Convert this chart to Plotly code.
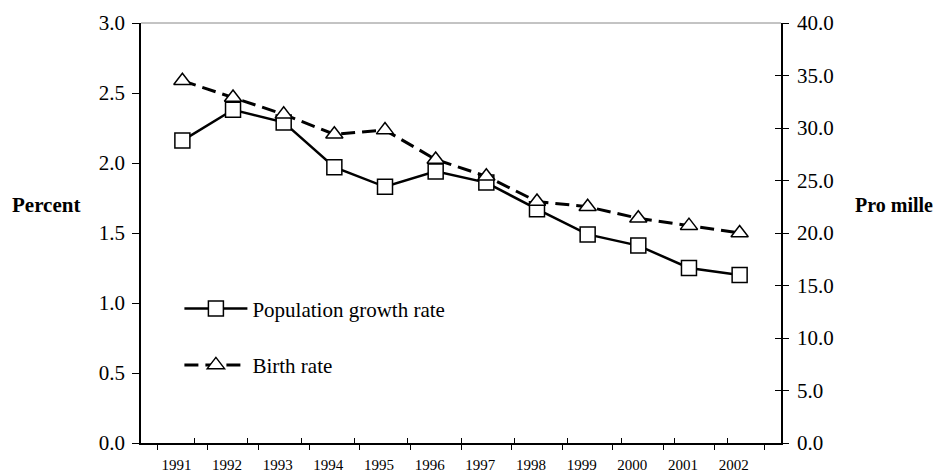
import plotly.graph_objects as go

years = ["1991", "1992", "1993", "1994", "1995", "1996", "1997", "1998", "1999", "2000", "2001", "2002"]
population_growth = [2.16, 2.38, 2.29, 1.97, 1.83, 1.94, 1.86, 1.67, 1.49, 1.41, 1.25, 1.20]
birth_rate = [34.5, 32.9, 31.3, 29.4, 29.8, 27.0, 25.4, 23.0, 22.5, 21.4, 20.7, 20.0]

FONT = "Times New Roman"

fig = go.Figure()
fig.add_trace(go.Scatter(
    x=years, y=population_growth, name="Population growth rate",
    mode="lines+markers", legendgroup="a",
    line=dict(color="black", width=2.5),
    marker=dict(symbol="square", size=15, color="white", line=dict(color="black", width=1.5)),
))
fig.add_trace(go.Scatter(
    x=years, y=birth_rate, name="Birth rate", yaxis="y2",
    mode="lines+markers", legendgroup="b",
    line=dict(color="black", width=3, dash="14px,7px"),
    marker=dict(symbol="triangle-up", size=15, color="white", line=dict(color="black", width=1.5)),
))

common = dict(showgrid=False, zeroline=False, automargin=False)

fig.update_layout(
    width=933, height=465,
    margin=dict(l=133, r=160, t=15, b=30),
    paper_bgcolor="white", plot_bgcolor="white",
    font=dict(family=FONT, color="black", size=16),
    showlegend=True,
    legend=dict(x=0.06, y=0.368, xanchor="left", yanchor="top", itemwidth=63,
                bgcolor="rgba(0,0,0,0)", font=dict(size=21, family=FONT),
                traceorder="grouped", tracegroupgap=26),
    xaxis=dict(type="category", categoryarray=years, showline=True, linecolor="black", linewidth=1.5,
               ticks="outside", ticklen=5, tickcolor="black", tickson="boundaries",
               ticklabelstandoff=7, ticklabelshift=-6, tickfont=dict(size=15, family=FONT), **common),
    xaxis2=dict(type="category", categoryarray=years, range=[-0.5, len(years) - 0.5],
                overlaying="x", side="bottom", showline=False, ticks="inside", ticklen=5,
                tickcolor="black", tickson="boundaries", showticklabels=False, **common),
    yaxis=dict(range=[0, 3], dtick=0.5, tickformat=".1f", showline=True,
               linecolor="black", linewidth=1.5, ticks="outside", ticklen=7, tickcolor="black",
               ticklabelstandoff=3, tickfont=dict(size=21, family=FONT), **common),
    yaxis2=dict(range=[0, 40], dtick=5, tickformat=".1f", overlaying="y", side="right",
                showline=True, linecolor="black", linewidth=1.5,
                ticks="outside", ticklen=6, tickcolor="black", ticklabelstandoff=4,
                tickfont=dict(size=21, family=FONT), **common),
    yaxis3=dict(range=[0, 40], dtick=5, overlaying="y", side="right", showline=False,
                ticks="inside", ticklen=6, tickcolor="black", showticklabels=False, **common),
    shapes=[dict(type="line", xref="paper", yref="paper", x0=0, x1=1, y0=1, y1=1,
                 line=dict(color="#888888", width=1))],
    annotations=[
        dict(text="<b>Percent</b>", xref="paper", yref="paper", x=-0.148, y=0.567,
             xanchor="center", yanchor="middle", showarrow=False, font=dict(size=21, family=FONT)),
        dict(text="<b>Pro mille</b>", xref="paper", yref="paper", x=1.176, y=0.567,
             xanchor="center", yanchor="middle", showarrow=False, font=dict(size=20, family=FONT)),
    ],
)

# invisible helper trace so the crossing-tick overlay axes are drawn
fig.add_trace(go.Scatter(x=years, y=[None] * len(years), xaxis="x2", yaxis="y3",
                         showlegend=False, hoverinfo="skip", mode="lines"))

fig.write_html("out.html")
